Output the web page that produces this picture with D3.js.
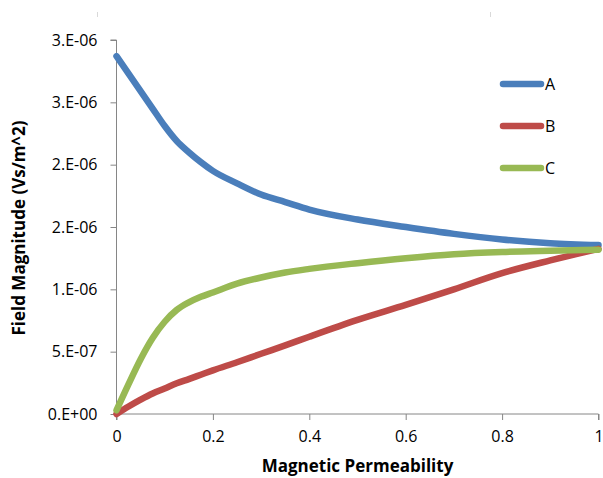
<!DOCTYPE html>
<html>
<head>
<meta charset="utf-8">
<script src="https://cdn.jsdelivr.net/npm/d3@7"></script>
<style>
  html, body { margin: 0; padding: 0; background: #fff; }
  svg { display: block; }
  text { font-family: "Open Sans", "Liberation Sans", sans-serif; fill: #000; }
</style>
</head>
<body>
<svg id="chart" width="603" height="478"></svg>
<script>
// ---- data ----
const xValues = [0, 0.025, 0.05, 0.075, 0.1, 0.125, 0.15, 0.175, 0.2, 0.25, 0.3, 0.35, 0.4, 0.5, 0.6, 0.7, 0.8, 0.9, 1];
const seriesA = [2.87e-6, 2.73e-6, 2.59e-6, 2.45e-6, 2.31e-6, 2.19e-6, 2.10e-6, 2.02e-6, 1.95e-6, 1.85e-6, 1.76e-6, 1.70e-6, 1.64e-6, 1.56e-6, 1.50e-6, 1.445e-6, 1.40e-6, 1.37e-6, 1.355e-6];
const seriesB = [0, 0.06e-6, 0.115e-6, 0.165e-6, 0.205e-6, 0.246e-6, 0.28e-6, 0.315e-6, 0.35e-6, 0.415e-6, 0.483e-6, 0.55e-6, 0.62e-6, 0.755e-6, 0.875e-6, 1.0e-6, 1.13e-6, 1.232e-6, 1.325e-6];
const seriesC = [0.03e-6, 0.24e-6, 0.44e-6, 0.61e-6, 0.74e-6, 0.835e-6, 0.895e-6, 0.94e-6, 0.975e-6, 1.045e-6, 1.095e-6, 1.135e-6, 1.164e-6, 1.21e-6, 1.25e-6, 1.282e-6, 1.30e-6, 1.31e-6, 1.318e-6];
const seriesNames = ["A", "B", "C"];
const xTicks = [0, 0.2, 0.4, 0.6, 0.8, 1];
const xTickLabels = ["0", "0.2", "0.4", "0.6", "0.8", "1"];
const yTicks = [0, 0.5e-6, 1.0e-6, 1.5e-6, 2.0e-6, 2.5e-6, 3.0e-6];
const yTickLabels = ["0.E+00", "5.E-07", "1.E-06", "2.E-06", "2.E-06", "3.E-06", "3.E-06"];
const xTitle = "Magnetic Permeability";
const yTitle = "Field Magnitude (Vs/m^2)";

// ---- layout ----
const colors = ["#4A7EBB", "#BE4B48", "#98B954"];
const svg = d3.select("#chart");
const x = d3.scaleLinear().domain([0, 1]).range([116.5, 598.5]);
const y = d3.scaleLinear().domain([0, 3e-6]).range([414, 40]);
const axisColor = "#868686";

// stray border fragments at top
svg.append("line").attr("x1", 97.5).attr("x2", 97.5).attr("y1", 12).attr("y2", 17).attr("stroke", "#d9d9d9");
svg.append("line").attr("x1", 490.5).attr("x2", 490.5).attr("y1", 12).attr("y2", 17).attr("stroke", "#d9d9d9");

// y axis
const yAxis = svg.append("g").attr("transform", `translate(${x(0)},0)`)
  .call(d3.axisLeft(y).tickValues(yTicks).tickFormat((d, i) => yTickLabels[i]).tickSize(6).tickPadding(13));
yAxis.select(".domain").attr("stroke", axisColor).attr("d", `M-6,${y(3e-6)}H0V${y(0)}`);
yAxis.selectAll(".tick line").attr("stroke", axisColor);
yAxis.selectAll(".tick text").style("font-size", "16px").style("font-family", '"Open Sans", sans-serif').attr("fill", "#000");

// x axis
const xAxis = svg.append("g").attr("transform", `translate(0,${y(0)})`)
  .call(d3.axisBottom(x).tickValues(xTicks).tickFormat((d, i) => xTickLabels[i]).tickSize(6).tickPadding(11));
xAxis.select(".domain").attr("stroke", axisColor).attr("d", `M${x(0)},6V0H${x(1)}V6`);
xAxis.selectAll(".tick line").attr("stroke", axisColor);
xAxis.selectAll(".tick text").style("font-size", "16px").style("font-family", '"Open Sans", sans-serif').attr("fill", "#000");

// titles
svg.append("text").attr("x", (x(0) + x(1)) / 2).attr("y", 472)
  .attr("text-anchor", "middle").style("font-size", "17px").style("font-weight", "bold").text(xTitle);
svg.append("text").attr("transform", `translate(25,228) rotate(-90)`)
  .attr("text-anchor", "middle").style("font-size", "17px").style("font-weight", "bold").text(yTitle);

// lines
const allSeries = [seriesA, seriesB, seriesC];
const line = d3.line().x(d => x(d[0])).y(d => y(d[1])).curve(d3.curveMonotoneX);
allSeries.forEach((s, i) => {
  svg.append("path")
    .datum(xValues.map((xv, j) => [xv, s[j]]))
    .attr("d", line)
    .attr("fill", "none")
    .attr("stroke", colors[i])
    .attr("stroke-width", 6.5)
    .attr("stroke-linejoin", "round")
    .attr("stroke-linecap", "round");
});

// legend
const legendY = [84, 126, 168];
seriesNames.forEach((name, i) => {
  svg.append("line").attr("x1", 503).attr("x2", 541).attr("y1", legendY[i]).attr("y2", legendY[i])
    .attr("stroke", colors[i]).attr("stroke-width", 6.5).attr("stroke-linecap", "round");
  svg.append("text").attr("x", 545).attr("y", legendY[i]).attr("dy", "0.36em")
    .style("font-size", "16px").text(name);
});
</script>
</body>
</html>
